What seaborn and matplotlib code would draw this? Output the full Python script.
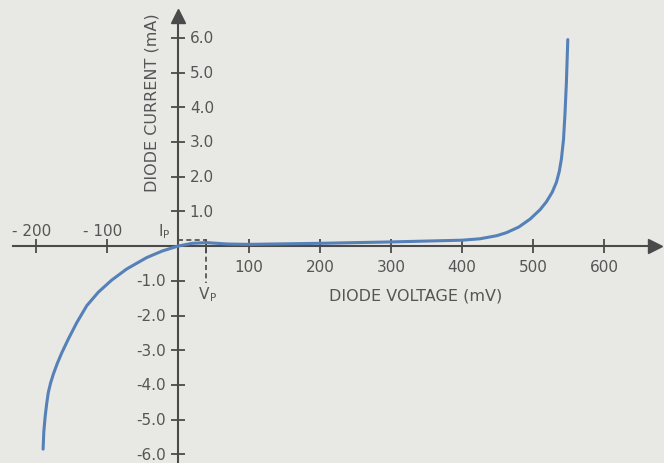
import matplotlib
matplotlib.use("Agg")
import matplotlib.pyplot as plt
import seaborn as sns
import pandas as pd

# ---- data ----
voltage_mv = [-190, -189, -187, -185, -182.7, -179.5, -175.6, -170, -163.8, -154.5, -142.7, -128.6, -112.3,
              -93.4, -72.3, -44, -22, 0,
              20, 40, 70, 100, 200, 300, 400, 425, 449, 463, 480, 496, 510, 519,
              527, 533, 537, 540, 543, 545, 547, 549]
current_ma = [-5.85, -5.35, -4.89, -4.55, -4.22, -3.95, -3.69, -3.38, -3.08, -2.68, -2.21, -1.72, -1.33,
              -0.98, -0.66, -0.33, -0.14, 0.0,
              0.08, 0.10, 0.06, 0.05, 0.08, 0.12, 0.17, 0.21, 0.30, 0.39, 0.55, 0.78, 1.05, 1.28,
              1.55, 1.84, 2.15, 2.51, 3.08, 3.8, 4.7, 5.95]

x_ticks = [-200, -100, 100, 200, 300, 400, 500, 600]
x_tick_labels = ["- 200", "- 100", "100", "200", "300", "400", "500", "600"]
y_ticks = [-6.0, -5.0, -4.0, -3.0, -2.0, -1.0, 1.0, 2.0, 3.0, 4.0, 5.0, 6.0]
y_tick_labels = ["-6.0", "-5.0", "-4.0", "-3.0", "-2.0", "-1.0", "1.0", "2.0", "3.0", "4.0", "5.0", "6.0"]
vp_mv = 40
ip_ma = 0.18
x_label = "DIODE VOLTAGE (mV)"
y_label = "DIODE CURRENT (mA)"

df = pd.DataFrame({"voltage": voltage_mv, "current": current_ma})

sns.set_theme(style="white")
plt.rcParams["font.family"] = ["DejaVu Sans"]

BG = "#e8e8e5"
AX = "#4a4a4a"
TXT = "#555555"
CURVE = "#5580b8"

fig = plt.figure(figsize=(6.64, 4.64), dpi=100)
fig.patch.set_facecolor(BG)
ax = fig.add_axes([0, 0, 1, 1])
ax.set_facecolor(BG)

ax.set_xlim(-250.7, 684.5)
ax.set_ylim(-6.25, 7.12)

sns.lineplot(data=df, x="voltage", y="current", sort=False, estimator=None,
             color=CURVE, linewidth=2.2, ax=ax, zorder=3)

# axes through the origin
for s in ["top", "right"]:
    ax.spines[s].set_visible(False)
ax.spines["left"].set_position(("data", 0))
ax.spines["bottom"].set_position(("data", 0))
ax.spines["left"].set_bounds(-6.25, 6.6)
ax.spines["bottom"].set_bounds(-232, 668)
for s in ["left", "bottom"]:
    ax.spines[s].set_color(AX)
    ax.spines[s].set_linewidth(1.5)
    ax.spines[s].set_zorder(2)

ax.set_xticks(x_ticks + [vp_mv])
ax.set_yticks(y_ticks)
ax.tick_params(axis="both", direction="inout", length=10, width=1.3, color=AX,
               labelbottom=False, labelleft=False, bottom=True, left=True)
ax.set_xlabel("")
ax.set_ylabel("")

# arrow heads
ax.plot([672], [0], marker=">", markersize=10, color=AX, clip_on=False, zorder=4)
ax.plot([0], [6.62], marker="^", markersize=10, color=AX, clip_on=False, zorder=4)

fs = 11
# x tick labels: negatives above, positives below
for v, lab in zip(x_ticks, x_tick_labels):
    if v < 0:
        ax.annotate(lab, xy=(v, 0), xytext=(-3, 11), textcoords="offset points",
                    ha="center", va="center", fontsize=fs, color=TXT)
    else:
        ax.annotate(lab, xy=(v, 0), xytext=(0, -15), textcoords="offset points",
                    ha="center", va="center", fontsize=fs, color=TXT)
# y tick labels: positives right, negatives left
for v, lab in zip(y_ticks, y_tick_labels):
    if v > 0:
        ax.annotate(lab, xy=(0, v), xytext=(8.5, 0), textcoords="offset points",
                    ha="left", va="center", fontsize=fs, color=TXT)
    else:
        ax.annotate(lab, xy=(0, v), xytext=(-8.5, 0), textcoords="offset points",
                    ha="right", va="center", fontsize=fs, color=TXT)

# axis titles
fig.text(152 / 664, 1 - 103 / 464, y_label, rotation=90, ha="center", va="center",
         fontsize=11.5, color=TXT)
fig.text(416 / 664, 1 - 296 / 464, x_label, ha="center", va="center",
         fontsize=11.5, color=TXT)

# peak point markers (dashed)
ax.plot([0, vp_mv], [ip_ma, ip_ma], linestyle=(0, (3, 2)), color=AX, linewidth=1.2, zorder=2)
ax.plot([vp_mv, vp_mv], [ip_ma, -1.05], linestyle=(0, (3, 2)), color=AX, linewidth=1.2, zorder=2)

# I_P and V_P labels
ax.annotate("I", xy=(0, 0), xytext=(-12.5, 11), textcoords="offset points",
            ha="center", va="center", fontsize=fs, color=TXT)
ax.annotate("P", xy=(0, 0), xytext=(-8.3, 8.5), textcoords="offset points",
            ha="center", va="center", fontsize=7.5, color=TXT)
ax.annotate("V", xy=(vp_mv, 0), xytext=(-2, -34), textcoords="offset points",
            ha="center", va="center", fontsize=fs, color=TXT)
ax.annotate("P", xy=(vp_mv, 0), xytext=(4.5, -37), textcoords="offset points",
            ha="center", va="center", fontsize=7.5, color=TXT)

fig.savefig("out.png", dpi=100, facecolor=BG)
